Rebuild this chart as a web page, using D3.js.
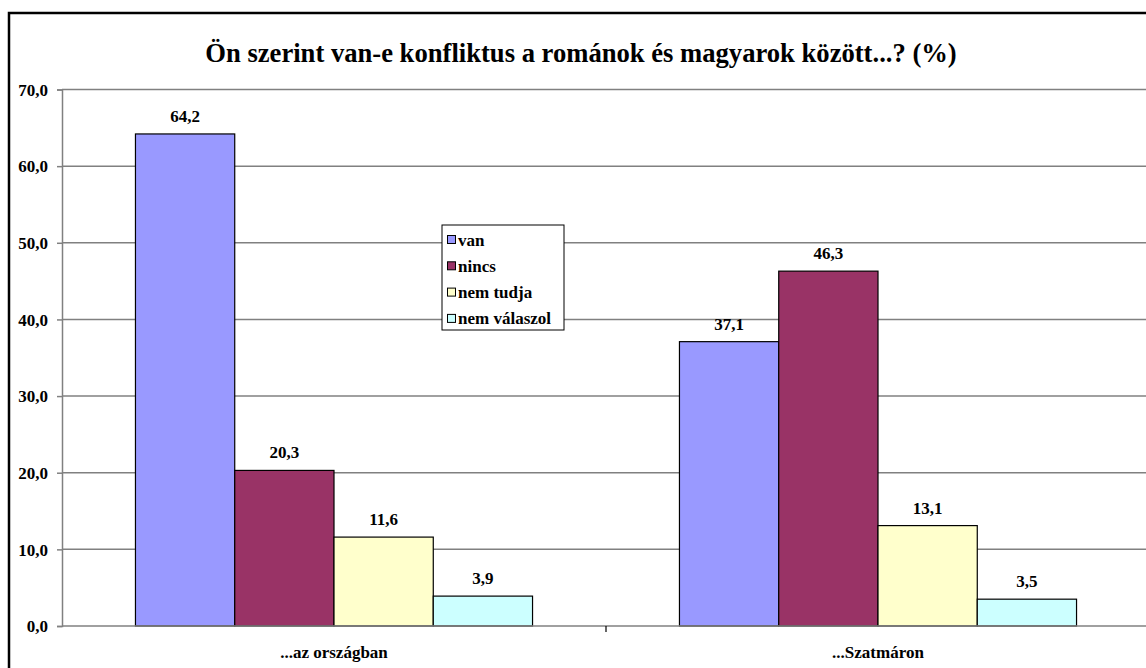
<!DOCTYPE html>
<html><head><meta charset="utf-8">
<script src="https://cdn.jsdelivr.net/npm/d3@7"></script>
<style>html,body{margin:0;padding:0;background:#fff;overflow:hidden}svg{display:block}
svg text{font-family:"Liberation Serif","Times New Roman","DejaVu Serif",serif;font-weight:bold}</style>
</head><body>
<svg id="chart" width="1146" height="668"></svg>
<script>
const title = "Ön szerint van-e konfliktus a románok és magyarok között...? (%)";
const categories = ["...az országban", "...Szatmáron"];
const seriesNames = ["van", "nincs", "nem tudja", "nem válaszol"];
const seriesColors = ["#9999FF", "#993366", "#FFFFCC", "#CCFFFF"];
const van = [64.2, 37.1];
const nincs = [20.3, 46.3];
const nemTudja = [11.6, 13.1];
const nemValaszol = [3.9, 3.5];
const yTicks = [0, 10, 20, 30, 40, 50, 60, 70];

const seriesValues = [van, nincs, nemTudja, nemValaszol];
const fmt = v => d3.format(".1f")(v).replace(".", ",");

const svg = d3.select("#chart");
const plotL = 62, plotR = 1150, plotT = 89.5, plotB = 626;

// outer frame
svg.append("rect").attr("x", 9).attr("y", 13).attr("width", 1160).attr("height", 700)
  .attr("fill", "none").attr("stroke", "#000").attr("stroke-width", 2.5);

const x0 = d3.scaleBand().domain(categories).range([plotL, plotR]).paddingInner(0).paddingOuter(0);
const x1 = d3.scaleBand().domain(seriesNames).range([0, x0.bandwidth()]).paddingInner(0)
  .paddingOuter(0.74);
const y = d3.scaleLinear().domain([0, 70]).range([plotB, plotT]);

// gridlines
svg.append("g").selectAll("line").data(yTicks.filter(d => d > 0)).join("line")
  .attr("x1", plotL).attr("x2", plotR)
  .attr("y1", d => y(d)).attr("y2", d => y(d))
  .attr("stroke", "#808080").attr("stroke-width", 1.5);

// y axis
const yAxis = d3.axisLeft(y).tickValues(yTicks).tickSize(5).tickPadding(9).tickFormat(fmt);
const ya = svg.append("g").attr("transform", `translate(${plotL},0)`).call(yAxis);
ya.attr("font-family", null).attr("font-size", null);
ya.select(".domain").attr("stroke", "#808080").attr("stroke-width", 1.5);
ya.selectAll(".tick line").attr("stroke", "#808080").attr("stroke-width", 1.5);
ya.selectAll(".tick text").style("font-size", "17px").attr("fill", "#000").attr("dy", "0.34em");

// bars
const groups = svg.append("g").selectAll("g").data(categories).join("g")
  .attr("transform", d => `translate(${x0(d)},0)`);
groups.selectAll("rect").data((c, ci) => seriesNames.map((s, si) => ({s, si, v: seriesValues[si][ci]})))
  .join("rect")
  .attr("x", d => x1(d.s)).attr("width", x1.bandwidth())
  .attr("y", d => y(d.v)).attr("height", d => y(0) - y(d.v))
  .attr("fill", d => seriesColors[d.si]).attr("stroke", "#000").attr("stroke-width", 1.2);
groups.selectAll("text").data((c, ci) => seriesNames.map((s, si) => ({s, si, v: seriesValues[si][ci]})))
  .join("text")
  .attr("x", d => x1(d.s) + x1.bandwidth() / 2).attr("y", d => y(d.v) - 12)
  .attr("text-anchor", "middle").style("font-size", "17px").text(d => fmt(d.v));

// x axis
const xa = svg.append("g").attr("transform", `translate(0,${plotB})`);
xa.append("line").attr("x1", plotL).attr("x2", plotR).attr("stroke", "#808080").attr("stroke-width", 1.5);
xa.selectAll("line.ct").data(categories.slice(1)).join("line").attr("class", "ct")
  .attr("x1", d => x0(d)).attr("x2", d => x0(d)).attr("y1", 0).attr("y2", 6)
  .attr("stroke", "#000").attr("stroke-width", 1.2);
xa.selectAll("text").data(categories).join("text")
  .attr("x", d => x0(d) + x0.bandwidth() / 2).attr("y", 32)
  .attr("text-anchor", "middle").style("font-size", "17px").text(d => d);

// title
const t = svg.append("text").attr("x", 581).attr("y", 62).attr("text-anchor", "middle")
  .style("font-size", "20px").text(title);
const w = t.node().getComputedTextLength();
t.style("font-size", (20 * 752 / w) + "px");

// legend
const lg = svg.append("g").attr("transform", "translate(442,225)");
lg.append("rect").attr("x", 0).attr("y", 0).attr("width", 122).attr("height", 105)
  .attr("fill", "#fff").attr("stroke", "#000").attr("stroke-width", 1);
const items = lg.selectAll("g").data(seriesNames).join("g")
  .attr("transform", (d, i) => `translate(0,${15 + i * 26.3})`);
items.append("rect").attr("x", 5.5).attr("y", -4.5).attr("width", 8).attr("height", 8)
  .attr("fill", (d, i) => seriesColors[i]).attr("stroke", "#000").attr("stroke-width", 1);
items.append("text").attr("x", 16).attr("y", 5.5).style("font-size", "17px").text(d => d);
</script>
</body></html>
